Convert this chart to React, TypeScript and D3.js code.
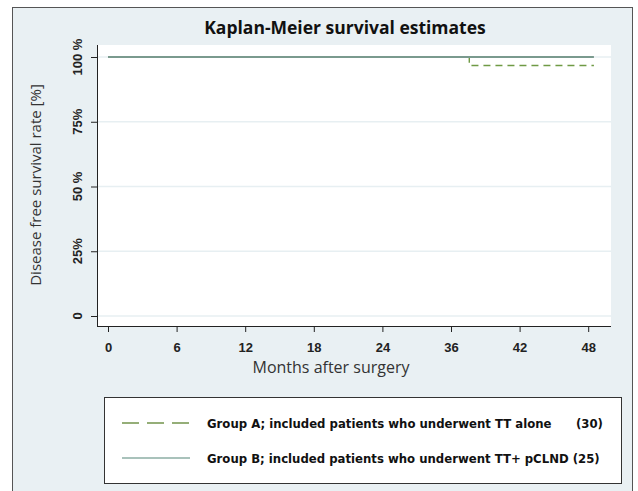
import React, { useEffect, useRef } from 'react';
import * as d3 from 'd3';

// tick positions as printed on the original axis (evenly spaced, 30 is skipped)
const monthTicks = [0, 6, 12, 18, 24, 36, 42, 48];
const pctTicks = [0, 25, 50, 75, 100];
const pctLabels = ['0', '25%', '50 %', '75%', '100 %'];

// step curves: [month, survival %]
const groupA = [[0, 100], [37.6, 100], [37.6, 96.7], [48.5, 96.7]];
const groupB = [[0, 100], [48.5, 100]];

const legendLabels = [
  'Group A; included patients who underwent TT alone',
  'Group B; included patients who underwent TT+ pCLND (25)'
];

const W = 638;
const H = 491;
const margin = { top: 45, right: 27, bottom: 165, left: 97 };

export default function App() {
  const ref = useRef<SVGSVGElement>(null);

  useEffect(() => {
    const svg = d3.select(ref.current);
    svg.selectAll('*').remove();

    const innerW = W - margin.left - margin.right;
    const innerH = H - margin.top - margin.bottom;

    // outer frame
    svg.append('rect')
      .attr('x', 12.5).attr('y', 7.5)
      .attr('width', 620).attr('height', 490)
      .attr('fill', '#e9f0f3').attr('stroke', '#555').attr('stroke-width', 1);

    // plot area
    svg.append('rect')
      .attr('x', margin.left).attr('y', margin.top)
      .attr('width', innerW).attr('height', innerH)
      .attr('fill', '#ffffff');

    const x = d3.scaleLinear()
      .domain(monthTicks)
      .range(monthTicks.map((_, i) => margin.left + 11 + i * 68.6));
    const y = d3.scaleLinear()
      .domain([0, 100])
      .range([316, 57]);

    // horizontal grid
    svg.append('g')
      .selectAll('line')
      .data(pctTicks)
      .enter()
      .append('line')
      .attr('x1', margin.left).attr('x2', margin.left + innerW)
      .attr('y1', (d) => y(d)).attr('y2', (d) => y(d))
      .attr('stroke', '#e7eff2').attr('stroke-width', 1.5);

    // y axis
    const yAxis = svg.append('g')
      .attr('transform', `translate(${margin.left}, 0)`)
      .call(d3.axisLeft(y).tickValues(pctTicks).tickSize(6).tickSizeOuter(0).tickFormat(() => ''));
    yAxis.select('.domain').attr('d', `M0.5,${margin.top}V${margin.top + innerH}`).attr('stroke', '#222');
    yAxis.selectAll('.tick line').attr('stroke', '#222');

    svg.append('g')
      .selectAll('text')
      .data(pctTicks)
      .enter()
      .append('text')
      .attr('transform', (d) => `translate(82, ${y(d)}) rotate(-90)`)
      .attr('text-anchor', 'middle')
      .attr('font-family', '"Liberation Sans", Arial, sans-serif')
      .attr('font-weight', 'bold')
      .attr('font-size', 13)
      .attr('fill', '#222')
      .text((d, i) => pctLabels[i]);

    // x axis
    const xAxis = svg.append('g')
      .attr('transform', `translate(0, ${margin.top + innerH})`)
      .call(d3.axisBottom(x).tickValues(monthTicks).tickSize(6).tickSizeOuter(0).tickFormat(d3.format('d')));
    xAxis.select('.domain').attr('d', `M${margin.left},0.5H${margin.left + innerW}`).attr('stroke', '#222');
    xAxis.selectAll('.tick line').attr('stroke', '#222');
    xAxis.selectAll('.tick text')
      .attr('dy', 0).attr('y', 26)
      .attr('font-family', '"Liberation Sans", Arial, sans-serif')
      .attr('font-weight', 'bold')
      .attr('font-size', 13)
      .attr('fill', '#222');

    // titles
    svg.append('text')
      .attr('x', 345).attr('y', 34)
      .attr('text-anchor', 'middle')
      .attr('font-family', '"Open Sans", sans-serif')
      .attr('font-weight', 'bold')
      .attr('font-size', 17.5)
      .attr('fill', '#111')
      .text('Kaplan-Meier survival estimates');

    svg.append('text')
      .attr('x', 331).attr('y', 373)
      .attr('text-anchor', 'middle')
      .attr('font-family', '"Open Sans", sans-serif')
      .attr('font-size', 16)
      .attr('fill', '#333')
      .text('Months after surgery');

    svg.append('text')
      .attr('transform', 'translate(41, 185) rotate(-90)')
      .attr('text-anchor', 'middle')
      .attr('font-family', '"Open Sans", sans-serif')
      .attr('font-size', 15)
      .attr('fill', '#333')
      .text('Disease free survival rate [%]');

    // survival curves
    const line = d3.line<number[]>()
      .x((d) => x(d[0]))
      .y((d) => y(d[1]));

    svg.append('path')
      .datum(groupA)
      .attr('d', line)
      .attr('fill', 'none')
      .attr('stroke', '#6f9a45')
      .attr('stroke-width', 1.4)
      .attr('stroke-dasharray', '7,5');

    svg.append('path')
      .datum(groupB)
      .attr('d', line)
      .attr('fill', 'none')
      .attr('stroke', '#7a9a8e')
      .attr('stroke-width', 1.8);

    // legend
    const legend = svg.append('g');
    legend.append('rect')
      .attr('x', 104.5).attr('y', 397.5)
      .attr('width', 517).attr('height', 86)
      .attr('fill', '#fff').attr('stroke', '#333');

    const rowY = [423, 458];
    legend.append('line')
      .attr('x1', 122).attr('x2', 189)
      .attr('y1', rowY[0]).attr('y2', rowY[0])
      .attr('stroke', '#95ae78').attr('stroke-width', 2)
      .attr('stroke-dasharray', '17,8');
    legend.append('line')
      .attr('x1', 122).attr('x2', 190)
      .attr('y1', rowY[1]).attr('y2', rowY[1])
      .attr('stroke', '#a9c2bb').attr('stroke-width', 2);

    legend.selectAll('text.lab')
      .data(legendLabels)
      .enter()
      .append('text')
      .attr('class', 'lab')
      .attr('x', 207)
      .attr('y', (d, i) => rowY[i] + 4.5)
      .attr('font-family', '"Liberation Sans Narrow", "DejaVu Sans Condensed", sans-serif')
      .attr('font-weight', 'bold')
      .attr('font-size', 13)
      .attr('fill', '#111')
      .text((d) => d);

    legend.append('text')
      .attr('x', 576).attr('y', rowY[0] + 4.5)
      .attr('font-family', '"Liberation Sans Narrow", "DejaVu Sans Condensed", sans-serif')
      .attr('font-weight', 'bold')
      .attr('font-size', 13)
      .attr('fill', '#111')
      .text('(30)');
  }, []);

  return (
    <svg ref={ref} width={W} height={H} style={{ position: 'absolute', left: 0, top: 0 }} />
  );
}
